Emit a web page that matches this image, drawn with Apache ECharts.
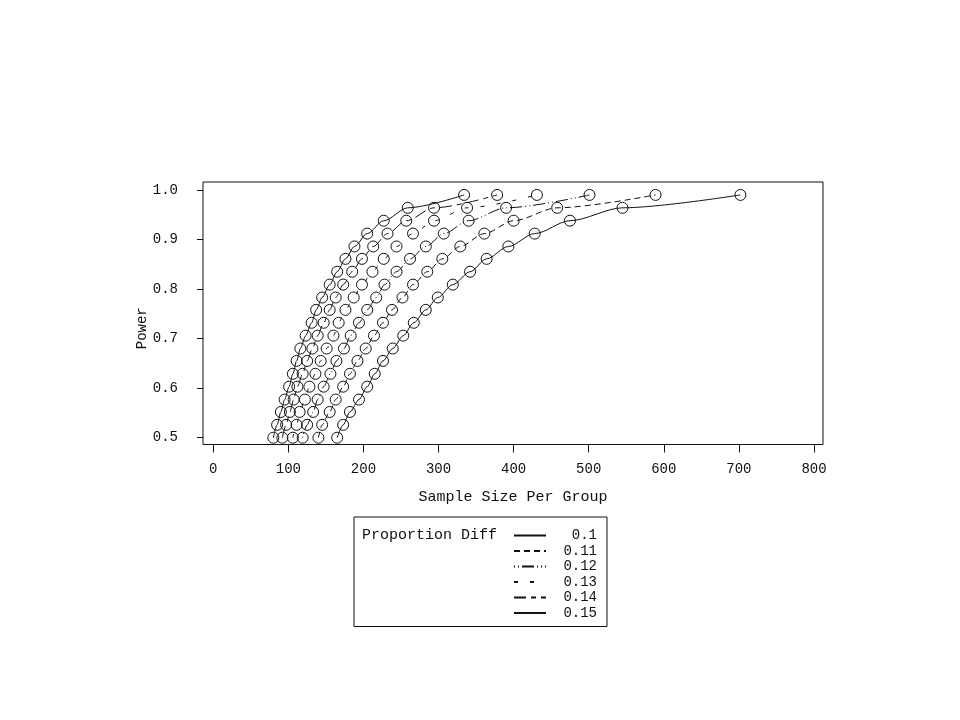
<!DOCTYPE html>
<html><head><meta charset="utf-8">
<script src="https://cdn.jsdelivr.net/npm/echarts@6/dist/echarts.min.js"></script>
<style>html,body{margin:0;padding:0;background:#fff}#c{width:960px;height:720px}</style>
</head><body><div id="c"></div>
<script>
// Power levels (y) shared by every curve
const power = [0.50, 0.526, 0.552, 0.577, 0.603, 0.629, 0.655, 0.680, 0.706, 0.732,
               0.758, 0.783, 0.809, 0.835, 0.861, 0.886, 0.912, 0.938, 0.964, 0.990];
// Sample size per group for each proportion difference
const diffNames = ['0.1', '0.11', '0.12', '0.13', '0.14', '0.15'];
const n_010 = [165, 173, 182, 194, 205, 215, 226, 239, 253, 267, 283, 299, 319, 342, 364, 393, 428, 475, 545, 702];
const n_011 = [140, 145, 155, 163, 173, 182, 192, 203, 214, 226, 238, 252, 266, 285, 305, 329, 361, 400, 458, 589];
const n_012 = [119, 125, 133, 139, 147, 156, 164, 174, 183, 194, 205, 217, 228, 244, 262, 283, 307, 340, 390, 501];
const n_013 = [106, 111, 115, 122, 128, 136, 143, 151, 160, 167, 176, 187, 198, 212, 227, 244, 266, 294, 338, 431];
const n_014 = [92, 97, 102, 107, 112, 119, 125, 132, 139, 147, 155, 163, 173, 185, 198, 213, 232, 257, 294, 378];
const n_015 = [80, 85, 90, 95, 101, 106, 111, 116, 123, 131, 137, 145, 155, 165, 176, 188, 205, 227, 259, 334];
const xTicks = [0, 100, 200, 300, 400, 500, 600, 700, 800];
const yTicks = [0.5, 0.6, 0.7, 0.8, 0.9, 1.0];
const xTitle = 'Sample Size Per Group';
const yTitle = 'Power';
const legendTitle = 'Proportion Diff';

const sizes = [n_010, n_011, n_012, n_013, n_014, n_015];
const lineTypes = ['solid', [6, 4], [1, 3, 1, 3, 12, 3], [4, 12], [12, 5, 5, 5], 'solid'];
const FONT = "'Liberation Mono', 'DejaVu Sans Mono', monospace";
const INK = '#111';

const series = sizes.map((arr, i) => ({
  name: diffNames[i],
  type: 'line',
  data: arr.map((n, k) => [n, power[k]]),
  smooth: 0.3,
  smoothMonotone: 'x',
  symbol: 'circle',
  symbolSize: 11,
  itemStyle: { color: 'rgba(0,0,0,0)', borderColor: INK, borderWidth: 1 },
  lineStyle: { color: INK, width: 1, type: lineTypes[i] },
  emphasis: { disabled: true }
}));

const chart = echarts.init(document.getElementById('c'), null, { renderer: 'canvas' });
chart.setOption({
  animation: false,
  backgroundColor: '#fff',
  title: {
    text: legendTitle, left: 362, top: 528, padding: 0,
    textStyle: { fontFamily: FONT, fontSize: 15, fontWeight: 'normal', color: INK }
  },
  grid: { left: 203, right: 137, top: 182, bottom: 275.5, show: true, borderColor: INK, borderWidth: 1, containLabel: false },
  xAxis: {
    type: 'value', min: -13.7, max: 812,
    axisLine: { show: false, onZero: false },
    splitLine: { show: false },
    axisTick: { show: true, customValues: xTicks, length: 8, inside: false, lineStyle: { color: INK } },
    axisLabel: { customValues: xTicks, margin: 18, fontFamily: FONT, fontSize: 14, color: INK },
    name: xTitle, nameLocation: 'middle', nameGap: 45, nameMoveOverlap: false,
    nameTextStyle: { fontFamily: FONT, fontSize: 15, color: INK }
  },
  yAxis: {
    type: 'value', min: 0.4863, max: 1.0161,
    axisLine: { show: false, onZero: false },
    splitLine: { show: false },
    axisTick: { show: true, customValues: yTicks, length: 6, inside: false, lineStyle: { color: INK } },
    axisLabel: { customValues: yTicks, margin: 25, fontFamily: FONT, fontSize: 14, color: INK,
                 formatter: v => v.toFixed(1) },
    name: yTitle, nameLocation: 'middle', nameGap: 54, nameRotate: 90, nameMoveOverlap: false,
    nameTextStyle: { fontFamily: FONT, fontSize: 14, color: INK, padding: [0, 30, 0, 0] }
  },
  legend: {
    orient: 'vertical', left: 354, top: 517,
    padding: [11, 10, 6, 159],
    borderColor: INK, borderWidth: 1,
    itemWidth: 32, itemHeight: 10, itemGap: 0.5,
    selectedMode: false,
    itemStyle: { opacity: 0 },
    formatter: name => '{r|' + name + '}',
    textStyle: {
      fontFamily: FONT, fontSize: 14, color: INK, lineHeight: 15,
      rich: { r: { width: 46, align: 'right', fontFamily: FONT, fontSize: 14, lineHeight: 15, color: INK } }
    },
    data: diffNames
  },
  series: series
});
</script>
</body></html>
